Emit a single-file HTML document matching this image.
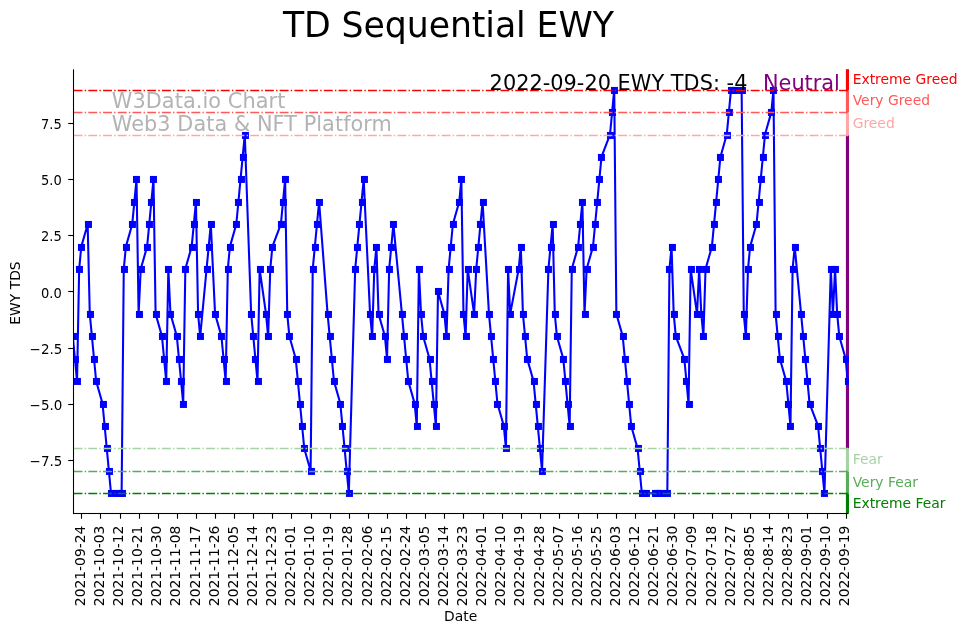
<!DOCTYPE html>
<html lang="en"><head><meta charset="utf-8"><title>TD Sequential EWY</title>
<style>html,body{margin:0;padding:0;background:#fff}svg{display:block}</style></head>
<body>
<svg width="967" height="633" viewBox="0 0 967 633" font-family="DejaVu Sans, Liberation Sans, sans-serif">
<rect width="967" height="633" fill="#fff"/>
<defs><clipPath id="ax"><rect x="73" y="69.5" width="776" height="444.5"/></clipPath></defs>
<rect x="845.9" y="69.20" width="3.10" height="21.30" fill="#ff0000"/>
<rect x="845.9" y="90.50" width="3.10" height="22.00" fill="#ff5959"/>
<rect x="845.9" y="112.50" width="3.10" height="23.00" fill="#ffa6a6"/>
<rect x="845.9" y="135.50" width="3.10" height="313.00" fill="#800080"/>
<rect x="845.9" y="448.50" width="3.10" height="23.00" fill="#a6d3a6"/>
<rect x="845.9" y="471.50" width="3.10" height="22.00" fill="#59ac59"/>
<rect x="845.9" y="493.50" width="3.10" height="20.20" fill="#008000"/>
<g clip-path="url(#ax)">
<polyline fill="none" stroke="#0000ff" stroke-width="2.08" stroke-linejoin="round" points="72.80,336.31 74.92,358.73 77.04,381.15 79.17,269.05 81.29,246.63 87.66,224.21 89.78,313.89 91.91,336.31 94.03,358.73 96.15,381.15 102.52,403.57 104.65,425.99 106.77,448.41 108.89,470.83 111.02,493.25 117.39,493.25 119.51,493.25 121.63,493.25 123.76,269.05 125.88,246.63 132.25,224.21 134.37,201.79 136.50,179.37 138.62,313.89 140.74,269.05 147.11,246.63 149.24,224.21 151.36,201.79 153.48,179.37 155.61,313.89 161.98,336.31 164.10,358.73 166.22,381.15 168.34,269.05 170.47,313.89 176.84,336.31 178.96,358.73 181.08,381.15 183.21,403.57 185.33,269.05 191.70,246.63 193.82,224.21 195.95,201.79 198.07,313.89 200.19,336.31 206.56,269.05 208.69,246.63 210.81,224.21 215.06,313.89 221.43,336.31 223.55,358.73 225.67,381.15 227.80,269.05 229.92,246.63 236.29,224.21 238.41,201.79 240.54,179.37 242.66,156.95 244.78,134.53 251.15,313.89 253.28,336.31 255.40,358.73 257.52,381.15 259.65,269.05 266.02,313.89 268.14,336.31 270.26,269.05 272.39,246.63 280.88,224.21 283.00,201.79 285.13,179.37 287.25,313.89 289.37,336.31 295.74,358.73 297.87,381.15 299.99,403.57 302.11,425.99 304.24,448.41 310.61,470.83 312.73,269.05 314.85,246.63 316.98,224.21 319.10,201.79 327.59,313.89 329.71,336.31 331.84,358.73 333.96,381.15 340.33,403.57 342.45,425.99 344.58,448.41 346.70,470.83 348.82,493.25 355.19,269.05 357.32,246.63 359.44,224.21 361.56,201.79 363.69,179.37 370.06,313.89 372.18,336.31 374.30,269.05 376.43,246.63 378.55,313.89 384.92,336.31 387.04,358.73 389.17,269.05 391.29,246.63 393.41,224.21 401.91,313.89 404.03,336.31 406.15,358.73 408.28,381.15 414.65,403.57 416.77,425.99 418.89,269.05 421.02,313.89 423.14,336.31 429.51,358.73 431.63,381.15 433.76,403.57 435.88,425.99 438.00,291.47 444.37,313.89 446.50,336.31 448.62,269.05 450.74,246.63 452.87,224.21 459.24,201.79 461.36,179.37 463.48,313.89 465.61,336.31 467.73,269.05 474.10,313.89 476.22,269.05 478.35,246.63 480.47,224.21 482.59,201.79 488.96,313.89 491.08,336.31 493.21,358.73 495.33,381.15 497.45,403.57 503.82,425.99 505.95,448.41 508.07,269.05 510.19,313.89 518.69,269.05 520.81,246.63 522.93,313.89 525.06,336.31 527.18,358.73 533.55,381.15 535.67,403.57 537.80,425.99 539.92,448.41 542.04,470.83 548.41,269.05 550.54,246.63 552.66,224.21 554.78,313.89 556.91,336.31 563.28,358.73 565.40,381.15 567.52,403.57 569.65,425.99 571.77,269.05 578.14,246.63 580.26,224.21 582.39,201.79 584.51,313.89 586.63,269.05 593.00,246.63 595.13,224.21 597.25,201.79 599.37,179.37 601.50,156.95 609.99,134.53 612.11,112.11 614.24,89.69 616.36,313.89 622.73,336.31 624.85,358.73 626.98,381.15 629.10,403.57 631.22,425.99 637.59,448.41 639.72,470.83 641.84,493.25 643.96,493.25 646.09,493.25 654.58,493.25 656.70,493.25 658.82,493.25 660.95,493.25 667.32,493.25 669.44,269.05 671.56,246.63 673.69,313.89 675.81,336.31 684.30,358.73 686.43,381.15 688.55,403.57 690.67,269.05 697.04,313.89 699.17,269.05 701.29,313.89 703.41,336.31 705.54,269.05 711.91,246.63 714.03,224.21 716.15,201.79 718.28,179.37 720.40,156.95 726.77,134.53 728.89,112.11 731.02,89.69 733.14,89.69 735.26,89.69 741.63,89.69 743.76,313.89 745.88,336.31 748.00,269.05 750.13,246.63 756.50,224.21 758.62,201.79 760.74,179.37 762.87,156.95 764.99,134.53 771.36,112.11 773.48,89.69 775.61,313.89 777.73,336.31 779.85,358.73 786.22,381.15 788.35,403.57 790.47,425.99 792.59,269.05 794.72,246.63 801.09,313.89 803.21,336.31 805.33,358.73 807.46,381.15 809.58,403.57 818.07,425.99 820.19,448.41 822.32,470.83 824.44,493.25 830.81,269.05 832.93,313.89 835.06,269.05 837.18,313.89 839.30,336.31 845.67,358.73 847.80,381.15"/>
<g fill="#0000ff"><rect x="69.95" y="332.95" width="7" height="7"/><rect x="71.95" y="355.95" width="7" height="7"/><rect x="73.95" y="377.95" width="7" height="7"/><rect x="75.95" y="265.95" width="7" height="7"/><rect x="77.95" y="243.95" width="7" height="7"/><rect x="84.95" y="220.95" width="7" height="7"/><rect x="86.95" y="310.95" width="7" height="7"/><rect x="88.95" y="332.95" width="7" height="7"/><rect x="90.95" y="355.95" width="7" height="7"/><rect x="92.95" y="377.95" width="7" height="7"/><rect x="99.95" y="400.95" width="7" height="7"/><rect x="101.95" y="422.95" width="7" height="7"/><rect x="103.95" y="444.95" width="7" height="7"/><rect x="105.95" y="467.95" width="7" height="7"/><rect x="107.95" y="489.95" width="7" height="7"/><rect x="113.95" y="489.95" width="7" height="7"/><rect x="116.95" y="489.95" width="7" height="7"/><rect x="118.95" y="489.95" width="7" height="7"/><rect x="120.95" y="265.95" width="7" height="7"/><rect x="122.95" y="243.95" width="7" height="7"/><rect x="128.95" y="220.95" width="7" height="7"/><rect x="130.95" y="198.95" width="7" height="7"/><rect x="132.95" y="175.95" width="7" height="7"/><rect x="135.95" y="310.95" width="7" height="7"/><rect x="137.95" y="265.95" width="7" height="7"/><rect x="143.95" y="243.95" width="7" height="7"/><rect x="145.95" y="220.95" width="7" height="7"/><rect x="147.95" y="198.95" width="7" height="7"/><rect x="149.95" y="175.95" width="7" height="7"/><rect x="152.95" y="310.95" width="7" height="7"/><rect x="158.95" y="332.95" width="7" height="7"/><rect x="160.95" y="355.95" width="7" height="7"/><rect x="162.95" y="377.95" width="7" height="7"/><rect x="164.95" y="265.95" width="7" height="7"/><rect x="166.95" y="310.95" width="7" height="7"/><rect x="173.95" y="332.95" width="7" height="7"/><rect x="175.95" y="355.95" width="7" height="7"/><rect x="177.95" y="377.95" width="7" height="7"/><rect x="179.95" y="400.95" width="7" height="7"/><rect x="181.95" y="265.95" width="7" height="7"/><rect x="188.95" y="243.95" width="7" height="7"/><rect x="190.95" y="220.95" width="7" height="7"/><rect x="192.95" y="198.95" width="7" height="7"/><rect x="194.95" y="310.95" width="7" height="7"/><rect x="196.95" y="332.95" width="7" height="7"/><rect x="203.95" y="265.95" width="7" height="7"/><rect x="205.95" y="243.95" width="7" height="7"/><rect x="207.95" y="220.95" width="7" height="7"/><rect x="211.95" y="310.95" width="7" height="7"/><rect x="217.95" y="332.95" width="7" height="7"/><rect x="220.95" y="355.95" width="7" height="7"/><rect x="222.95" y="377.95" width="7" height="7"/><rect x="224.95" y="265.95" width="7" height="7"/><rect x="226.95" y="243.95" width="7" height="7"/><rect x="232.95" y="220.95" width="7" height="7"/><rect x="234.95" y="198.95" width="7" height="7"/><rect x="237.95" y="175.95" width="7" height="7"/><rect x="239.95" y="153.95" width="7" height="7"/><rect x="241.95" y="131.95" width="7" height="7"/><rect x="247.95" y="310.95" width="7" height="7"/><rect x="249.95" y="332.95" width="7" height="7"/><rect x="251.95" y="355.95" width="7" height="7"/><rect x="254.95" y="377.95" width="7" height="7"/><rect x="256.95" y="265.95" width="7" height="7"/><rect x="262.95" y="310.95" width="7" height="7"/><rect x="264.95" y="332.95" width="7" height="7"/><rect x="266.95" y="265.95" width="7" height="7"/><rect x="268.95" y="243.95" width="7" height="7"/><rect x="277.95" y="220.95" width="7" height="7"/><rect x="279.95" y="198.95" width="7" height="7"/><rect x="281.95" y="175.95" width="7" height="7"/><rect x="283.95" y="310.95" width="7" height="7"/><rect x="285.95" y="332.95" width="7" height="7"/><rect x="292.95" y="355.95" width="7" height="7"/><rect x="294.95" y="377.95" width="7" height="7"/><rect x="296.95" y="400.95" width="7" height="7"/><rect x="298.95" y="422.95" width="7" height="7"/><rect x="300.95" y="444.95" width="7" height="7"/><rect x="307.95" y="467.95" width="7" height="7"/><rect x="309.95" y="265.95" width="7" height="7"/><rect x="311.95" y="243.95" width="7" height="7"/><rect x="313.95" y="220.95" width="7" height="7"/><rect x="315.95" y="198.95" width="7" height="7"/><rect x="324.95" y="310.95" width="7" height="7"/><rect x="326.95" y="332.95" width="7" height="7"/><rect x="328.95" y="355.95" width="7" height="7"/><rect x="330.95" y="377.95" width="7" height="7"/><rect x="336.95" y="400.95" width="7" height="7"/><rect x="338.95" y="422.95" width="7" height="7"/><rect x="341.95" y="444.95" width="7" height="7"/><rect x="343.95" y="467.95" width="7" height="7"/><rect x="345.95" y="489.95" width="7" height="7"/><rect x="351.95" y="265.95" width="7" height="7"/><rect x="353.95" y="243.95" width="7" height="7"/><rect x="355.95" y="220.95" width="7" height="7"/><rect x="358.95" y="198.95" width="7" height="7"/><rect x="360.95" y="175.95" width="7" height="7"/><rect x="366.95" y="310.95" width="7" height="7"/><rect x="368.95" y="332.95" width="7" height="7"/><rect x="370.95" y="265.95" width="7" height="7"/><rect x="372.95" y="243.95" width="7" height="7"/><rect x="375.95" y="310.95" width="7" height="7"/><rect x="381.95" y="332.95" width="7" height="7"/><rect x="383.95" y="355.95" width="7" height="7"/><rect x="385.95" y="265.95" width="7" height="7"/><rect x="387.95" y="243.95" width="7" height="7"/><rect x="389.95" y="220.95" width="7" height="7"/><rect x="398.95" y="310.95" width="7" height="7"/><rect x="400.95" y="332.95" width="7" height="7"/><rect x="402.95" y="355.95" width="7" height="7"/><rect x="404.95" y="377.95" width="7" height="7"/><rect x="411.95" y="400.95" width="7" height="7"/><rect x="413.95" y="422.95" width="7" height="7"/><rect x="415.95" y="265.95" width="7" height="7"/><rect x="417.95" y="310.95" width="7" height="7"/><rect x="419.95" y="332.95" width="7" height="7"/><rect x="426.95" y="355.95" width="7" height="7"/><rect x="428.95" y="377.95" width="7" height="7"/><rect x="430.95" y="400.95" width="7" height="7"/><rect x="432.95" y="422.95" width="7" height="7"/><rect x="434.95" y="287.95" width="7" height="7"/><rect x="440.95" y="310.95" width="7" height="7"/><rect x="442.95" y="332.95" width="7" height="7"/><rect x="445.95" y="265.95" width="7" height="7"/><rect x="447.95" y="243.95" width="7" height="7"/><rect x="449.95" y="220.95" width="7" height="7"/><rect x="455.95" y="198.95" width="7" height="7"/><rect x="457.95" y="175.95" width="7" height="7"/><rect x="459.95" y="310.95" width="7" height="7"/><rect x="462.95" y="332.95" width="7" height="7"/><rect x="464.95" y="265.95" width="7" height="7"/><rect x="470.95" y="310.95" width="7" height="7"/><rect x="472.95" y="265.95" width="7" height="7"/><rect x="474.95" y="243.95" width="7" height="7"/><rect x="476.95" y="220.95" width="7" height="7"/><rect x="479.95" y="198.95" width="7" height="7"/><rect x="485.95" y="310.95" width="7" height="7"/><rect x="487.95" y="332.95" width="7" height="7"/><rect x="489.95" y="355.95" width="7" height="7"/><rect x="491.95" y="377.95" width="7" height="7"/><rect x="493.95" y="400.95" width="7" height="7"/><rect x="500.95" y="422.95" width="7" height="7"/><rect x="502.95" y="444.95" width="7" height="7"/><rect x="504.95" y="265.95" width="7" height="7"/><rect x="506.95" y="310.95" width="7" height="7"/><rect x="515.95" y="265.95" width="7" height="7"/><rect x="517.95" y="243.95" width="7" height="7"/><rect x="519.95" y="310.95" width="7" height="7"/><rect x="521.95" y="332.95" width="7" height="7"/><rect x="523.95" y="355.95" width="7" height="7"/><rect x="530.95" y="377.95" width="7" height="7"/><rect x="532.95" y="400.95" width="7" height="7"/><rect x="534.95" y="422.95" width="7" height="7"/><rect x="536.95" y="444.95" width="7" height="7"/><rect x="538.95" y="467.95" width="7" height="7"/><rect x="544.95" y="265.95" width="7" height="7"/><rect x="547.95" y="243.95" width="7" height="7"/><rect x="549.95" y="220.95" width="7" height="7"/><rect x="551.95" y="310.95" width="7" height="7"/><rect x="553.95" y="332.95" width="7" height="7"/><rect x="559.95" y="355.95" width="7" height="7"/><rect x="561.95" y="377.95" width="7" height="7"/><rect x="564.95" y="400.95" width="7" height="7"/><rect x="566.95" y="422.95" width="7" height="7"/><rect x="568.95" y="265.95" width="7" height="7"/><rect x="574.95" y="243.95" width="7" height="7"/><rect x="576.95" y="220.95" width="7" height="7"/><rect x="578.95" y="198.95" width="7" height="7"/><rect x="581.95" y="310.95" width="7" height="7"/><rect x="583.95" y="265.95" width="7" height="7"/><rect x="589.95" y="243.95" width="7" height="7"/><rect x="591.95" y="220.95" width="7" height="7"/><rect x="593.95" y="198.95" width="7" height="7"/><rect x="595.95" y="175.95" width="7" height="7"/><rect x="597.95" y="153.95" width="7" height="7"/><rect x="606.95" y="131.95" width="7" height="7"/><rect x="608.95" y="108.95" width="7" height="7"/><rect x="610.95" y="86.95" width="7" height="7"/><rect x="612.95" y="310.95" width="7" height="7"/><rect x="619.95" y="332.95" width="7" height="7"/><rect x="621.95" y="355.95" width="7" height="7"/><rect x="623.95" y="377.95" width="7" height="7"/><rect x="625.95" y="400.95" width="7" height="7"/><rect x="627.95" y="422.95" width="7" height="7"/><rect x="634.95" y="444.95" width="7" height="7"/><rect x="636.95" y="467.95" width="7" height="7"/><rect x="638.95" y="489.95" width="7" height="7"/><rect x="640.95" y="489.95" width="7" height="7"/><rect x="642.95" y="489.95" width="7" height="7"/><rect x="651.95" y="489.95" width="7" height="7"/><rect x="653.95" y="489.95" width="7" height="7"/><rect x="655.95" y="489.95" width="7" height="7"/><rect x="657.95" y="489.95" width="7" height="7"/><rect x="663.95" y="489.95" width="7" height="7"/><rect x="665.95" y="265.95" width="7" height="7"/><rect x="668.95" y="243.95" width="7" height="7"/><rect x="670.95" y="310.95" width="7" height="7"/><rect x="672.95" y="332.95" width="7" height="7"/><rect x="680.95" y="355.95" width="7" height="7"/><rect x="682.95" y="377.95" width="7" height="7"/><rect x="685.95" y="400.95" width="7" height="7"/><rect x="687.95" y="265.95" width="7" height="7"/><rect x="693.95" y="310.95" width="7" height="7"/><rect x="695.95" y="265.95" width="7" height="7"/><rect x="697.95" y="310.95" width="7" height="7"/><rect x="699.95" y="332.95" width="7" height="7"/><rect x="702.95" y="265.95" width="7" height="7"/><rect x="708.95" y="243.95" width="7" height="7"/><rect x="710.95" y="220.95" width="7" height="7"/><rect x="712.95" y="198.95" width="7" height="7"/><rect x="714.95" y="175.95" width="7" height="7"/><rect x="716.95" y="153.95" width="7" height="7"/><rect x="723.95" y="131.95" width="7" height="7"/><rect x="725.95" y="108.95" width="7" height="7"/><rect x="727.95" y="86.95" width="7" height="7"/><rect x="729.95" y="86.95" width="7" height="7"/><rect x="731.95" y="86.95" width="7" height="7"/><rect x="738.95" y="86.95" width="7" height="7"/><rect x="740.95" y="310.95" width="7" height="7"/><rect x="742.95" y="332.95" width="7" height="7"/><rect x="744.95" y="265.95" width="7" height="7"/><rect x="746.95" y="243.95" width="7" height="7"/><rect x="752.95" y="220.95" width="7" height="7"/><rect x="755.95" y="198.95" width="7" height="7"/><rect x="757.95" y="175.95" width="7" height="7"/><rect x="759.95" y="153.95" width="7" height="7"/><rect x="761.95" y="131.95" width="7" height="7"/><rect x="767.95" y="108.95" width="7" height="7"/><rect x="769.95" y="86.95" width="7" height="7"/><rect x="772.95" y="310.95" width="7" height="7"/><rect x="774.95" y="332.95" width="7" height="7"/><rect x="776.95" y="355.95" width="7" height="7"/><rect x="782.95" y="377.95" width="7" height="7"/><rect x="784.95" y="400.95" width="7" height="7"/><rect x="786.95" y="422.95" width="7" height="7"/><rect x="789.95" y="265.95" width="7" height="7"/><rect x="791.95" y="243.95" width="7" height="7"/><rect x="797.95" y="310.95" width="7" height="7"/><rect x="799.95" y="332.95" width="7" height="7"/><rect x="801.95" y="355.95" width="7" height="7"/><rect x="803.95" y="377.95" width="7" height="7"/><rect x="806.95" y="400.95" width="7" height="7"/><rect x="814.95" y="422.95" width="7" height="7"/><rect x="816.95" y="444.95" width="7" height="7"/><rect x="818.95" y="467.95" width="7" height="7"/><rect x="820.95" y="489.95" width="7" height="7"/><rect x="827.95" y="265.95" width="7" height="7"/><rect x="829.95" y="310.95" width="7" height="7"/><rect x="831.95" y="265.95" width="7" height="7"/><rect x="833.95" y="310.95" width="7" height="7"/><rect x="835.95" y="332.95" width="7" height="7"/><rect x="842.95" y="355.95" width="7" height="7"/><rect x="844.95" y="377.95" width="7" height="7"/></g>
<line x1="73.6" x2="849" y1="90.5" y2="90.5" stroke="#ff0000" stroke-width="1.39" stroke-dasharray="8.89 2.22 1.39 2.22"/>
<line x1="73.6" x2="849" y1="112.5" y2="112.5" stroke="#ff5959" stroke-width="1.39" stroke-dasharray="8.89 2.22 1.39 2.22"/>
<line x1="73.6" x2="849" y1="135.5" y2="135.5" stroke="#ffa6a6" stroke-width="1.39" stroke-dasharray="8.89 2.22 1.39 2.22"/>
<line x1="73.6" x2="849" y1="448.5" y2="448.5" stroke="#a6d3a6" stroke-width="1.39" stroke-dasharray="8.89 2.22 1.39 2.22"/>
<line x1="73.6" x2="849" y1="471.5" y2="471.5" stroke="#59ac59" stroke-width="1.39" stroke-dasharray="8.89 2.22 1.39 2.22"/>
<line x1="73.6" x2="849" y1="493.5" y2="493.5" stroke="#008000" stroke-width="1.39" stroke-dasharray="8.89 2.22 1.39 2.22"/>
</g>
<text x="111.7" y="108.0" font-size="20.83" textLength="173.7" fill="#b3b3b3">W3Data.io Chart</text>
<text x="111.7" y="130.6" font-size="20.83" textLength="280.2" fill="#b3b3b3">Web3 Data &amp; NFT Platform</text>
<text x="747.4" y="89.8" font-size="20.83" text-anchor="end" textLength="257.8" fill="#000">2022-09-20 EWY TDS: -4</text>
<text x="839.9" y="89.8" font-size="20.83" text-anchor="end" fill="#800080">Neutral</text>
<rect x="72.97" y="69.3" width="1.06" height="444.73" fill="#000"/>
<rect x="72.97" y="512.97" width="775.33" height="1.06" fill="#000"/>
<text x="852.7" y="84.00" font-size="13.89" fill="#ff0000">Extreme Greed</text>
<text x="852.7" y="105.30" font-size="13.89" fill="#ff5959">Very Greed</text>
<text x="852.7" y="127.60" font-size="13.89" fill="#ffa6a6">Greed</text>
<text x="852.7" y="464.30" font-size="13.89" fill="#a6d3a6">Fear</text>
<text x="852.7" y="486.70" font-size="13.89" fill="#59ac59">Very Fear</text>
<text x="852.7" y="508.00" font-size="13.89" fill="#008000">Extreme Fear</text>
<rect x="68.2" y="459.95" width="4.9" height="1.1" fill="#000"/>
<text x="62.35" y="466.00" font-size="13.89" text-anchor="end" textLength="32.73" lengthAdjust="spacingAndGlyphs" fill="#000">−7.5</text>
<rect x="68.2" y="403.95" width="4.9" height="1.1" fill="#000"/>
<text x="62.35" y="410.00" font-size="13.89" text-anchor="end" textLength="32.73" lengthAdjust="spacingAndGlyphs" fill="#000">−5.0</text>
<rect x="68.2" y="347.95" width="4.9" height="1.1" fill="#000"/>
<text x="62.35" y="354.00" font-size="13.89" text-anchor="end" textLength="32.73" lengthAdjust="spacingAndGlyphs" fill="#000">−2.5</text>
<rect x="68.2" y="290.95" width="4.9" height="1.1" fill="#000"/>
<text x="61.7" y="298.00" font-size="13.89" text-anchor="end" textLength="20.77" lengthAdjust="spacingAndGlyphs" fill="#000">0.0</text>
<rect x="68.2" y="234.95" width="4.9" height="1.1" fill="#000"/>
<text x="61.7" y="241.00" font-size="13.89" text-anchor="end" textLength="20.77" lengthAdjust="spacingAndGlyphs" fill="#000">2.5</text>
<rect x="68.2" y="178.95" width="4.9" height="1.1" fill="#000"/>
<text x="61.7" y="185.00" font-size="13.89" text-anchor="end" textLength="20.77" lengthAdjust="spacingAndGlyphs" fill="#000">5.0</text>
<rect x="68.2" y="122.95" width="4.9" height="1.1" fill="#000"/>
<text x="61.7" y="129.00" font-size="13.89" text-anchor="end" textLength="20.77" lengthAdjust="spacingAndGlyphs" fill="#000">7.5</text>
<rect x="80.95" y="513.9" width="1.1" height="4.8" fill="#000"/>
<text transform="translate(85.00,606.2) rotate(-90)" font-size="13.89" fill="#000">2021-09-24</text>
<rect x="99.95" y="513.9" width="1.1" height="4.8" fill="#000"/>
<text transform="translate(104.00,606.2) rotate(-90)" font-size="13.89" fill="#000">2021-10-03</text>
<rect x="119.95" y="513.9" width="1.1" height="4.8" fill="#000"/>
<text transform="translate(123.00,606.2) rotate(-90)" font-size="13.89" fill="#000">2021-10-12</text>
<rect x="138.95" y="513.9" width="1.1" height="4.8" fill="#000"/>
<text transform="translate(142.00,606.2) rotate(-90)" font-size="13.89" fill="#000">2021-10-21</text>
<rect x="157.95" y="513.9" width="1.1" height="4.8" fill="#000"/>
<text transform="translate(161.00,606.2) rotate(-90)" font-size="13.89" fill="#000">2021-10-30</text>
<rect x="176.95" y="513.9" width="1.1" height="4.8" fill="#000"/>
<text transform="translate(180.00,606.2) rotate(-90)" font-size="13.89" fill="#000">2021-11-08</text>
<rect x="195.95" y="513.9" width="1.1" height="4.8" fill="#000"/>
<text transform="translate(200.00,606.2) rotate(-90)" font-size="13.89" fill="#000">2021-11-17</text>
<rect x="214.95" y="513.9" width="1.1" height="4.8" fill="#000"/>
<text transform="translate(219.00,606.2) rotate(-90)" font-size="13.89" fill="#000">2021-11-26</text>
<rect x="233.95" y="513.9" width="1.1" height="4.8" fill="#000"/>
<text transform="translate(238.00,606.2) rotate(-90)" font-size="13.89" fill="#000">2021-12-05</text>
<rect x="252.95" y="513.9" width="1.1" height="4.8" fill="#000"/>
<text transform="translate(257.00,606.2) rotate(-90)" font-size="13.89" fill="#000">2021-12-14</text>
<rect x="271.95" y="513.9" width="1.1" height="4.8" fill="#000"/>
<text transform="translate(276.00,606.2) rotate(-90)" font-size="13.89" fill="#000">2021-12-23</text>
<rect x="290.95" y="513.9" width="1.1" height="4.8" fill="#000"/>
<text transform="translate(295.00,606.2) rotate(-90)" font-size="13.89" fill="#000">2022-01-01</text>
<rect x="310.95" y="513.9" width="1.1" height="4.8" fill="#000"/>
<text transform="translate(314.00,606.2) rotate(-90)" font-size="13.89" fill="#000">2022-01-10</text>
<rect x="329.95" y="513.9" width="1.1" height="4.8" fill="#000"/>
<text transform="translate(333.00,606.2) rotate(-90)" font-size="13.89" fill="#000">2022-01-19</text>
<rect x="348.95" y="513.9" width="1.1" height="4.8" fill="#000"/>
<text transform="translate(352.00,606.2) rotate(-90)" font-size="13.89" fill="#000">2022-01-28</text>
<rect x="367.95" y="513.9" width="1.1" height="4.8" fill="#000"/>
<text transform="translate(372.00,606.2) rotate(-90)" font-size="13.89" fill="#000">2022-02-06</text>
<rect x="386.95" y="513.9" width="1.1" height="4.8" fill="#000"/>
<text transform="translate(391.00,606.2) rotate(-90)" font-size="13.89" fill="#000">2022-02-15</text>
<rect x="405.95" y="513.9" width="1.1" height="4.8" fill="#000"/>
<text transform="translate(410.00,606.2) rotate(-90)" font-size="13.89" fill="#000">2022-02-24</text>
<rect x="424.95" y="513.9" width="1.1" height="4.8" fill="#000"/>
<text transform="translate(429.00,606.2) rotate(-90)" font-size="13.89" fill="#000">2022-03-05</text>
<rect x="443.95" y="513.9" width="1.1" height="4.8" fill="#000"/>
<text transform="translate(448.00,606.2) rotate(-90)" font-size="13.89" fill="#000">2022-03-14</text>
<rect x="462.95" y="513.9" width="1.1" height="4.8" fill="#000"/>
<text transform="translate(467.00,606.2) rotate(-90)" font-size="13.89" fill="#000">2022-03-23</text>
<rect x="482.95" y="513.9" width="1.1" height="4.8" fill="#000"/>
<text transform="translate(486.00,606.2) rotate(-90)" font-size="13.89" fill="#000">2022-04-01</text>
<rect x="501.95" y="513.9" width="1.1" height="4.8" fill="#000"/>
<text transform="translate(505.00,606.2) rotate(-90)" font-size="13.89" fill="#000">2022-04-10</text>
<rect x="520.95" y="513.9" width="1.1" height="4.8" fill="#000"/>
<text transform="translate(524.00,606.2) rotate(-90)" font-size="13.89" fill="#000">2022-04-19</text>
<rect x="539.95" y="513.9" width="1.1" height="4.8" fill="#000"/>
<text transform="translate(544.00,606.2) rotate(-90)" font-size="13.89" fill="#000">2022-04-28</text>
<rect x="558.95" y="513.9" width="1.1" height="4.8" fill="#000"/>
<text transform="translate(563.00,606.2) rotate(-90)" font-size="13.89" fill="#000">2022-05-07</text>
<rect x="577.95" y="513.9" width="1.1" height="4.8" fill="#000"/>
<text transform="translate(582.00,606.2) rotate(-90)" font-size="13.89" fill="#000">2022-05-16</text>
<rect x="596.95" y="513.9" width="1.1" height="4.8" fill="#000"/>
<text transform="translate(601.00,606.2) rotate(-90)" font-size="13.89" fill="#000">2022-05-25</text>
<rect x="615.95" y="513.9" width="1.1" height="4.8" fill="#000"/>
<text transform="translate(620.00,606.2) rotate(-90)" font-size="13.89" fill="#000">2022-06-03</text>
<rect x="634.95" y="513.9" width="1.1" height="4.8" fill="#000"/>
<text transform="translate(639.00,606.2) rotate(-90)" font-size="13.89" fill="#000">2022-06-12</text>
<rect x="654.95" y="513.9" width="1.1" height="4.8" fill="#000"/>
<text transform="translate(658.00,606.2) rotate(-90)" font-size="13.89" fill="#000">2022-06-21</text>
<rect x="673.95" y="513.9" width="1.1" height="4.8" fill="#000"/>
<text transform="translate(677.00,606.2) rotate(-90)" font-size="13.89" fill="#000">2022-06-30</text>
<rect x="692.95" y="513.9" width="1.1" height="4.8" fill="#000"/>
<text transform="translate(696.00,606.2) rotate(-90)" font-size="13.89" fill="#000">2022-07-09</text>
<rect x="711.95" y="513.9" width="1.1" height="4.8" fill="#000"/>
<text transform="translate(716.00,606.2) rotate(-90)" font-size="13.89" fill="#000">2022-07-18</text>
<rect x="730.95" y="513.9" width="1.1" height="4.8" fill="#000"/>
<text transform="translate(735.00,606.2) rotate(-90)" font-size="13.89" fill="#000">2022-07-27</text>
<rect x="749.95" y="513.9" width="1.1" height="4.8" fill="#000"/>
<text transform="translate(754.00,606.2) rotate(-90)" font-size="13.89" fill="#000">2022-08-05</text>
<rect x="768.95" y="513.9" width="1.1" height="4.8" fill="#000"/>
<text transform="translate(773.00,606.2) rotate(-90)" font-size="13.89" fill="#000">2022-08-14</text>
<rect x="787.95" y="513.9" width="1.1" height="4.8" fill="#000"/>
<text transform="translate(792.00,606.2) rotate(-90)" font-size="13.89" fill="#000">2022-08-23</text>
<rect x="806.95" y="513.9" width="1.1" height="4.8" fill="#000"/>
<text transform="translate(811.00,606.2) rotate(-90)" font-size="13.89" fill="#000">2022-09-01</text>
<rect x="826.95" y="513.9" width="1.1" height="4.8" fill="#000"/>
<text transform="translate(830.00,606.2) rotate(-90)" font-size="13.89" fill="#000">2022-09-10</text>
<rect x="845.95" y="513.9" width="1.1" height="4.8" fill="#000"/>
<text transform="translate(849.00,606.2) rotate(-90)" font-size="13.89" fill="#000">2022-09-19</text>
<text x="460.6" y="620.8" font-size="13.89" text-anchor="middle" fill="#000">Date</text>
<text transform="translate(20.4,293) rotate(-90)" font-size="13.89" text-anchor="middle" fill="#000">EWY TDS</text>
<text x="448.4" y="37.2" font-size="34.72" text-anchor="middle" textLength="331" fill="#000">TD Sequential EWY</text>
</svg>
</body></html>
